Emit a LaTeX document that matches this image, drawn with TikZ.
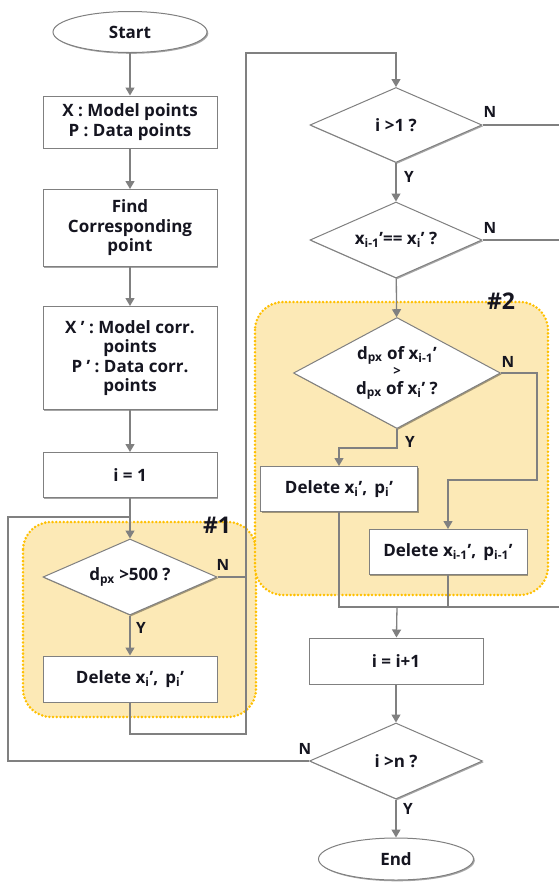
\documentclass[tikz,border=0pt]{standalone}
\usepackage{fontspec}
\setmainfont{Open Sans}
\usetikzlibrary{shapes.geometric,arrows.meta,shadows}
\definecolor{ln}{HTML}{808080}
\definecolor{regfill}{HTML}{FCE9B6}
\definecolor{regline}{HTML}{FFC000}
\definecolor{txt}{HTML}{151520}
\begin{document}
\begin{tikzpicture}[x=1pt,y=-1pt,
  every node/.style={font=\bfseries\fontsize{17}{19.5}\selectfont, text=txt},
  shad/.style={drop shadow={shadow xshift=1.3pt, shadow yshift=-1.3pt, opacity=0.35, fill=black}},
  box/.style={rectangle, draw=ln, line width=1pt, fill=white, inner sep=0pt, align=center, shad},
  dia/.style={diamond, draw=ln, line width=1pt, fill=white, inner sep=0pt, align=center, shad},
  term/.style={ellipse, draw=ln, line width=1pt, fill=white, inner sep=0pt, shad},
  conn/.style={draw=ln, line width=1.3pt},
  arr/.style={conn, -{Triangle[width=9pt,length=8pt]}},
  lbl/.style={font=\bfseries\fontsize{15.5}{17}\selectfont},
  region/.style={draw=regline, fill=regfill, line width=2.8pt, line cap=round, dash pattern=on 0pt off 3.7pt, rounded corners=28pt},
  tag/.style={font=\bfseries\fontsize{23}{24}\selectfont}]
\useasboundingbox (0,0) rectangle (559,884);
\clip (0,0) rectangle (559,884);
\fill[white] (0,0) rectangle (559,884);

% regions
\draw[region] (23,522) rectangle (256,717);
\draw[region] (255,302) rectangle (548,595);
\node[tag] (tag1) at (217,525) {\#1};
\node[tag] (tag2) at (501,301) {\#2};

% left column
\node[term, minimum width=154pt, minimum height=41pt] (start) at (130,32) {Start};
\node[box, minimum width=174pt, minimum height=52pt] (b1) at (130,122) {X : Model points\\P : Data points};
\node[box, minimum width=174pt, minimum height=77pt] (b2) at (130,228) {Find\\Corresponding\\point};
\node[box, minimum width=174pt, minimum height=103pt] (b3) at (130,358) {X ’ : Model corr.\\points\\P ’ : Data corr.\\points};
\node[box, minimum width=174pt, minimum height=45pt] (b4) at (130,475) {i = 1};
\node[dia, aspect=2.29, minimum width=174pt, minimum height=76pt] (d1) at (130,577) {d\textsubscript{px} >500 ?};
\node[box, minimum width=174pt, minimum height=46pt] (del1) at (130,679) {Delete x\textsubscript{i}’,\, p\textsubscript{i}’};

% right column
\node[dia, aspect=2.29, minimum width=172pt, minimum height=75pt] (d2) at (396,125) {i >1 ?};
\node[dia, aspect=2.26, minimum width=172pt, minimum height=76pt] (d3) at (396,240) {x\textsubscript{i-1}’== x\textsubscript{i}’ ?};
\node[dia, aspect=1.86, minimum width=207pt, minimum height=111pt] (d4) at (397,373) {d\textsubscript{px} of x\textsubscript{i-1}’\\[-3pt]{\fontsize{13}{13}\selectfont >}\\[-1pt]d\textsubscript{px} of x\textsubscript{i}’ ?};
\node[box, minimum width=157pt, minimum height=45pt] (del2) at (339,489) {Delete x\textsubscript{i}’,\, p\textsubscript{i}’};
\node[box, minimum width=158pt, minimum height=45pt] (del3) at (448,552) {Delete x\textsubscript{i-1}’,\, p\textsubscript{i-1}’};
\node[box, minimum width=174pt, minimum height=46pt] (inc) at (396,661) {i = i+1};
\node[dia, aspect=2.28, minimum width=173pt, minimum height=76pt] (dn) at (396,761) {i >n ?};
\node[term, minimum width=155pt, minimum height=42pt] (end) at (396,859) {End};

% coordinates
\coordinate (LB) at (8,761);
\coordinate (LT) at (8,517);
\coordinate (LJ) at (130,517);
\coordinate (R1) at (246,577);
\coordinate (R1b) at (246,734);
\coordinate (RT) at (246,53);
\coordinate (E1) at (565,125);
\coordinate (E2) at (565,240);
\coordinate (E3) at (565,607);
\coordinate (Y4) at (397,448);
\coordinate (N4a) at (537,373);
\coordinate (N4b) at (537,480);
\coordinate (M) at (397,607);

% connectors left
\draw[arr] (start) -- (b1);
\draw[arr] (b1) -- (b2);
\draw[arr] (b2) -- (b3);
\draw[arr] (b3) -- (b4);
\draw[arr] (b4) -- (d1);
\draw[conn] (dn.west) -- (LB) -- (LT) -- (LJ);
\draw[arr] (d1) -- (del1);
\draw[conn] (d1.east) -- (R1);
\draw[arr] (del1.south) |- (R1b) -- (RT) -| (d2.north);

% connectors right
\draw[arr] (d2) -- (d3);
\draw[conn] (d2.east) -- (E1) -- (E3);
\draw[conn] (d3.east) -- (E2);
\draw[arr] (d3) -- (d4);
\draw[arr] (d4.south) -- (Y4) -| (del2.north);
\draw[arr] (d4.east) -- (N4a) -- (N4b) -| (del3.north);
\draw[conn] (del2.south) |- (E3);
\draw[conn] (del3.south) -- (del3.south |- E3);
\draw[arr] (M) -- (inc);
\draw[arr] (inc) -- (dn);
\draw[arr] (dn) -- (end);

% labels
\node[lbl] (l1n) at (223,565) {N};
\node[lbl] (l1y) at (141,628) {Y};
\node[lbl] (l2n) at (490,112) {N};
\node[lbl] (l2y) at (409,177) {Y};
\node[lbl] (l3n) at (490,228) {N};
\node[lbl] (l4n) at (508,362) {N};
\node[lbl] (l4y) at (410,442) {Y};
\node[lbl] (l5n) at (305,749) {N};
\node[lbl] (l5y) at (408,809) {Y};
\end{tikzpicture}
\end{document}
